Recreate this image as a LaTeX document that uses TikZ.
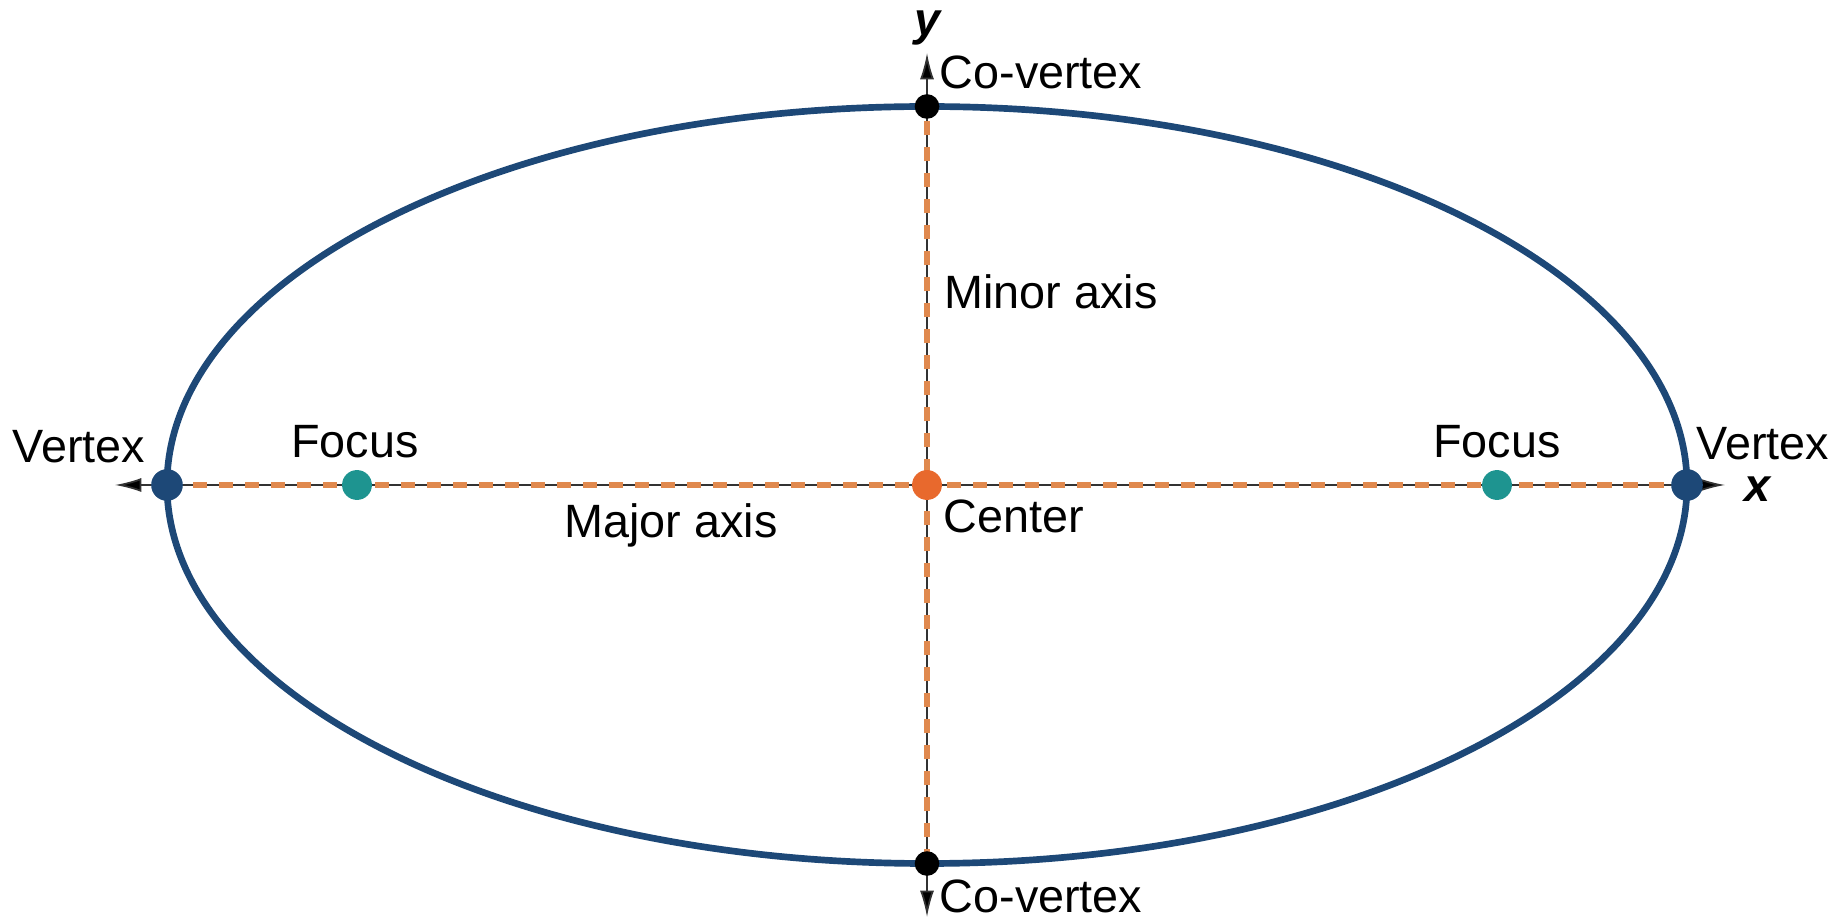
\documentclass[tikz,border=0pt]{standalone}
\usepackage{fontspec}
\setmainfont{Liberation Sans}
\usetikzlibrary{arrows.meta}

\definecolor{ellblue}{HTML}{1D4877}
\definecolor{focteal}{HTML}{1E9490}
\definecolor{cenorange}{HTML}{E8692D}
\definecolor{dashorange}{HTML}{E0894E}

\begin{document}
\begin{tikzpicture}[
  font=\fontsize{13.3}{16}\selectfont,
  dot/.style={circle,inner sep=0pt,minimum size=#1},
  axisline/.style={draw=black!80,line width=0.5pt,{Latex[length=7.5pt,width=4pt,fill=black]}-{Latex[length=7.5pt,width=4pt,fill=black]}},
  dashaxis/.style={draw=dashorange,line width=1.9pt,dash pattern=on 4pt off 3.4pt},
  axislabel/.style={font=\fontsize{13.3}{16}\selectfont\bfseries\itshape}
]
\useasboundingbox (-9.27,-4.33) rectangle (9.18,4.85);

% Ellipse
\draw[ellblue,line width=1.9pt] (0,0) ellipse (7.6 and 3.785);

% Axis ends
\coordinate (xl) at (-8.12,0);
\coordinate (xr) at (7.98,0);
\coordinate (yt) at (0,4.32);
\coordinate (yb) at (0,-4.32);

% Points on the axes
\coordinate (V1) at (-7.6,0);
\coordinate (V2) at (7.6,0);
\coordinate (B1) at (0,3.785);
\coordinate (B2) at (0,-3.785);

% Axes
\draw[axisline] (xl) -- (xr);
\draw[axisline] (yb) -- (yt);

% Major and minor axis
\draw[dashaxis] (V1) -- (V2);
\draw[dashaxis] (B2) -- (B1);

% Dots
\node[dot=9pt,fill=ellblue] (v1) at (V1) {};
\node[dot=9pt,fill=ellblue] (v2) at (V2) {};
\node[dot=8.5pt,fill=focteal] (f1) at (-5.7,0) {};
\node[dot=8.5pt,fill=focteal] (f2) at (5.7,0) {};
\node[dot=8.5pt,fill=cenorange] (c) at (0,0) {};
\node[dot=7pt,fill=black] (b1) at (B1) {};
\node[dot=7pt,fill=black] (b2) at (B2) {};

% Labels
\node at (-8.48,0.38) {Vertex};
\node at (8.36,0.41) {Vertex};
\node at (-5.72,0.43) {Focus};
\node at (5.70,0.43) {Focus};
\node at (-2.56,-0.40) {Major axis};
\node at (0.87,-0.31) {Center};
\node at (1.24,1.93) {Minor axis};
\node at (1.14,4.13) {Co-vertex};
\node at (1.14,-4.11) {Co-vertex};
\node[axislabel] at (0,4.57) {y};
\node[axislabel] at (8.3,-0.04) {x};
\end{tikzpicture}
\end{document}
